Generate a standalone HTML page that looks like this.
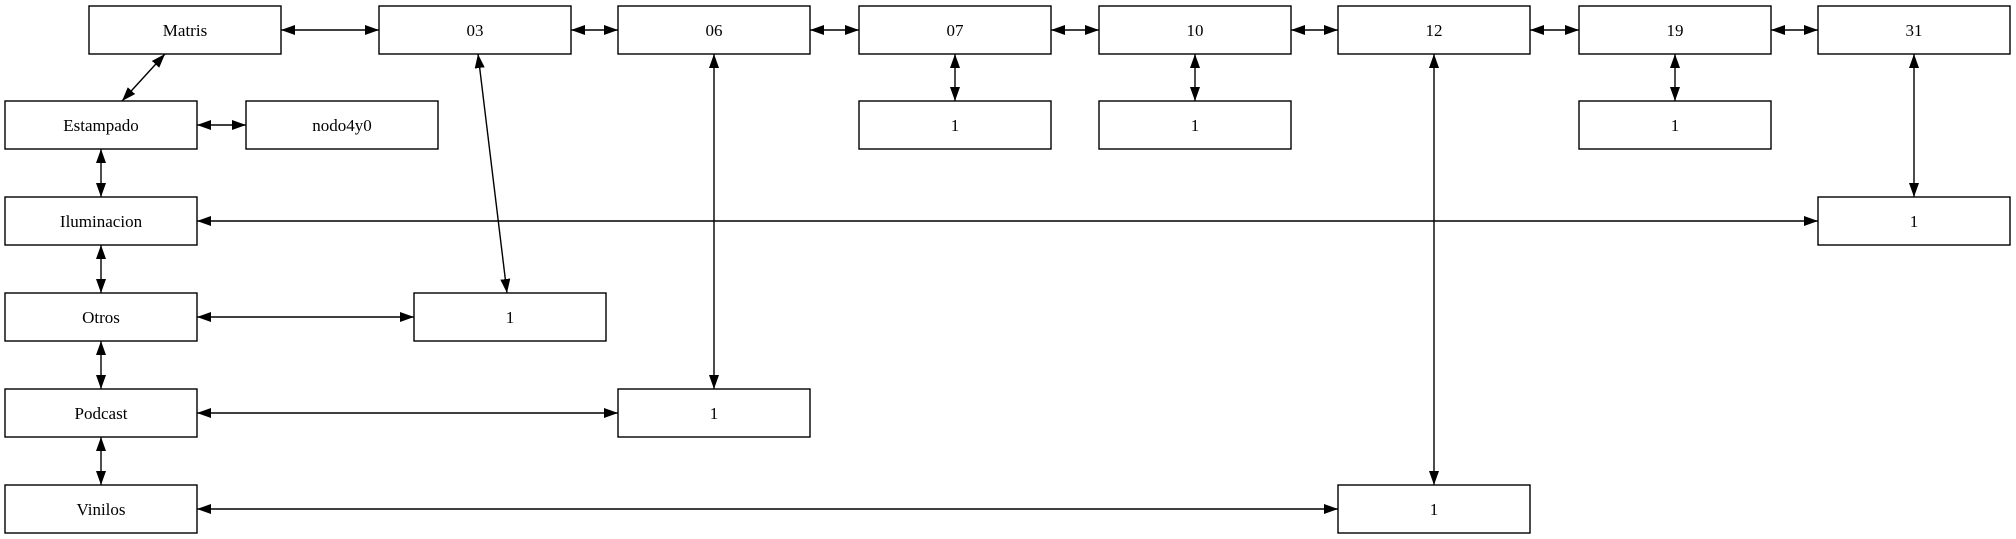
<!DOCTYPE html>
<html><head><meta charset="utf-8"><style>
html,body{margin:0;padding:0;background:#fff;}
svg{display:block;}
text{font-family:"Liberation Serif",serif;font-size:17px;fill:#000;}
</style></head><body>
<svg width="2016" height="539" viewBox="0 0 2016 539" xmlns="http://www.w3.org/2000/svg">
<defs>
<marker id="a" viewBox="0 0 14 10" refX="14" refY="5" markerWidth="14" markerHeight="10" markerUnits="userSpaceOnUse" orient="auto-start-reverse">
<path d="M0,0 L14,5 L0,10 Z" fill="#000"/>
</marker>
</defs>
<g fill="#fff" stroke="#000" stroke-width="1.4">
<rect x="89" y="6" width="192" height="48"/>
<rect x="379" y="6" width="192" height="48"/>
<rect x="618" y="6" width="192" height="48"/>
<rect x="859" y="6" width="192" height="48"/>
<rect x="1099" y="6" width="192" height="48"/>
<rect x="1338" y="6" width="192" height="48"/>
<rect x="1579" y="6" width="192" height="48"/>
<rect x="1818" y="6" width="192" height="48"/>
<rect x="5" y="101" width="192" height="48"/>
<rect x="246" y="101" width="192" height="48"/>
<rect x="859" y="101" width="192" height="48"/>
<rect x="1099" y="101" width="192" height="48"/>
<rect x="1579" y="101" width="192" height="48"/>
<rect x="5" y="197" width="192" height="48"/>
<rect x="1818" y="197" width="192" height="48"/>
<rect x="5" y="293" width="192" height="48"/>
<rect x="414" y="293" width="192" height="48"/>
<rect x="5" y="389" width="192" height="48"/>
<rect x="618" y="389" width="192" height="48"/>
<rect x="5" y="485" width="192" height="48"/>
<rect x="1338" y="485" width="192" height="48"/>
</g>
<g stroke="#000" stroke-width="1.4" fill="none" marker-start="url(#a)" marker-end="url(#a)">
<line x1="281" y1="30" x2="379" y2="30"/>
<line x1="571" y1="30" x2="618" y2="30"/>
<line x1="810" y1="30" x2="859" y2="30"/>
<line x1="1051" y1="30" x2="1099" y2="30"/>
<line x1="1291" y1="30" x2="1338" y2="30"/>
<line x1="1530" y1="30" x2="1579" y2="30"/>
<line x1="1771" y1="30" x2="1818" y2="30"/>
<line x1="165" y1="54" x2="122" y2="101"/>
<line x1="197" y1="125" x2="246" y2="125"/>
<line x1="101" y1="149" x2="101" y2="197"/>
<line x1="101" y1="245" x2="101" y2="293"/>
<line x1="101" y1="341" x2="101" y2="389"/>
<line x1="101" y1="437" x2="101" y2="485"/>
<line x1="478" y1="54" x2="507" y2="293"/>
<line x1="714" y1="54" x2="714" y2="389"/>
<line x1="955" y1="54" x2="955" y2="101"/>
<line x1="1195" y1="54" x2="1195" y2="101"/>
<line x1="1675" y1="54" x2="1675" y2="101"/>
<line x1="1434" y1="54" x2="1434" y2="485"/>
<line x1="1914" y1="54" x2="1914" y2="197"/>
<line x1="197" y1="221" x2="1818" y2="221"/>
<line x1="197" y1="317" x2="414" y2="317"/>
<line x1="197" y1="413" x2="618" y2="413"/>
<line x1="197" y1="509" x2="1338" y2="509"/>
</g>
<g text-anchor="middle">
<text x="185" y="36">Matris</text>
<text x="475" y="36">03</text>
<text x="714" y="36">06</text>
<text x="955" y="36">07</text>
<text x="1195" y="36">10</text>
<text x="1434" y="36">12</text>
<text x="1675" y="36">19</text>
<text x="1914" y="36">31</text>
<text x="101" y="131">Estampado</text>
<text x="342" y="131">nodo4y0</text>
<text x="955" y="131">1</text>
<text x="1195" y="131">1</text>
<text x="1675" y="131">1</text>
<text x="101" y="227">Iluminacion</text>
<text x="1914" y="227">1</text>
<text x="101" y="323">Otros</text>
<text x="510" y="323">1</text>
<text x="101" y="419">Podcast</text>
<text x="714" y="419">1</text>
<text x="101" y="515">Vinilos</text>
<text x="1434" y="515">1</text>
</g>
</svg>
</body></html>
